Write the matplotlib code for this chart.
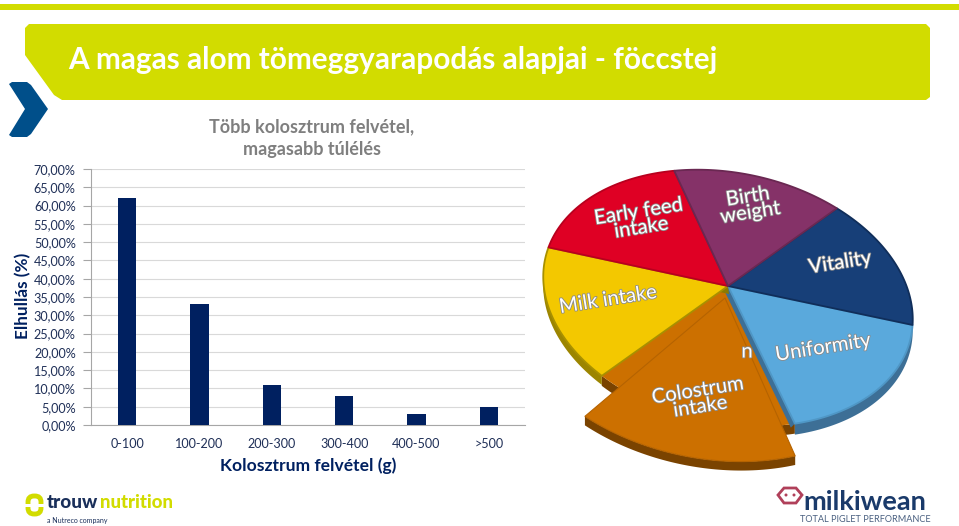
import numpy as np
import matplotlib
matplotlib.use('Agg')
import matplotlib.pyplot as plt
from matplotlib.patches import Polygon, FancyBboxPatch, Ellipse
import matplotlib.patheffects as pe

plt.rcParams['font.family'] = ['Lato', 'DejaVu Sans']

# bar chart data
categories = ['0-100', '100-200', '200-300', '300-400', '400-500', '>500']
mortality = [62, 33, 11, 8, 3, 5]
y_ticks = list(range(0, 75, 5))
y_labels = ['%d,00%%' % v for v in y_ticks]

# pie data (share of the ring in degrees, clockwise from Uniformity)
pie_labels = ['Uniformity', 'Colostrum\nintake', 'Milk intake', 'Early feed\nintake', 'Birth\nweight', 'Vitality']
pie_sizes = [66.2, 64.3, 60.6, 59.4, 53, 56.5]
pie_colors = ['#5aa9dc', '#cc7000', '#f3c800', '#df0024', '#853268', '#173f78']
rim_colors = ['#3d6f96', '#7a4300', '#9c8500', '#8f0017', '#5a2146', '#0f2a50']
edge_colors = ['#4f97c6', '#b56300', '#a89000', '#b8001e', '#6a2852', '#102e5a']
label_pos = [(823, 348), (699, 399), (608, 300), (640, 220), (749, 205), (840, 263)]

NAVY = '#002060'
TEXT = '#1f2f57'
LIME = '#d2dc00'

fig = plt.figure(figsize=(9.59, 5.26), dpi=100)
W, H = 959, 526

# overlay in pixel coordinates for the slide decoration
bg = fig.add_axes([0, 0, 1, 1], zorder=0)
bg.set_xlim(0, W)
bg.set_ylim(H, 0)
bg.axis('off')

bg.add_patch(Polygon([(0, 4), (W, 4), (W, 10), (0, 10)], color=LIME, lw=0))
bg.add_patch(Polygon([(25, 28), (29, 24), (926, 24), (930, 28), (930, 97), (926, 100),
                      (62, 100), (54, 95), (25, 55)], color=LIME, lw=0))
bg.text(68, 60, 'A magas alom tömeggyarapodás alapjai - föccstej', color='white',
        fontsize=21.4, fontweight='bold', va='center', ha='left')
bg.add_patch(Polygon([(9, 84), (12, 82), (27, 82), (31, 85), (48, 109), (31, 134), (27, 137),
                      (12, 137), (9, 135), (25, 109)], color='#004f8a', lw=0))

# bar chart
ax = fig.add_axes([91 / W, 1 - 425 / H, 434 / W, 256 / H], zorder=1)
ax.patch.set_alpha(0)
x = np.arange(len(categories))
ax.bar(x, mortality, width=0.25, color=NAVY, zorder=3)
ax.set_xlim(-0.5, 5.5)
ax.set_ylim(0, 70)
ax.set_yticks(y_ticks)
ax.set_yticklabels(y_labels, fontsize=9.1, color=TEXT)
ax.set_xticks(x)
ax.set_xticklabels(categories, fontsize=9.1, color=TEXT)
ax.tick_params(axis='x', length=0, pad=9)
ax.tick_params(axis='y', length=6, width=0.8, color='#a6a6a6', pad=5)
ax.grid(axis='y', color='#d9d9d9', lw=0.8, zorder=0)
for s in ['top', 'right']:
    ax.spines[s].set_visible(False)
for s in ['left', 'bottom']:
    ax.spines[s].set_color('#a6a6a6')
    ax.spines[s].set_linewidth(0.8)

bg.text(312, 127, 'Több kolosztrum felvétel,', color='#7f7f7f', fontsize=13,
        fontweight='bold', ha='center', va='center')
bg.text(312, 150, 'magasabb túlélés', color='#7f7f7f', fontsize=13,
        fontweight='bold', ha='center', va='center')
bg.text(308, 466, 'Kolosztrum felvétel (g)', color=NAVY, fontsize=12.6,
        fontweight='bold', ha='center', va='center')
bg.text(23, 296, 'Elhullás (%)', color=NAVY, fontsize=12.3, fontweight='bold',
        rotation=90, ha='center', va='center')

# tilted pie, drawn on the overlay
top = fig.add_axes([0, 0, 1, 1], zorder=2)
top.set_xlim(0, W)
top.set_ylim(H, 0)
top.axis('off')

CX, CY, A, B = 728, 298, 187, 125
ROT = np.radians(12)
APEX = (728, 286)


def rim(t1, t2, scale=1.0, dx=0, dy=0):
    t = np.radians(np.linspace(t1, t2, 60))
    ex = A * scale * np.cos(t)
    ey = B * scale * np.sin(t)
    return np.column_stack([CX + dx + ex * np.cos(ROT) - ey * np.sin(ROT),
                            CY + dy + ex * np.sin(ROT) + ey * np.cos(ROT)])


def side(pts, off, color, z):
    # visible thickness of the slice along an edge
    low = pts + np.array(off)
    top.add_patch(Polygon(np.vstack([pts, low[::-1]]), color=color, lw=0, zorder=z))


edges = -5.5 + np.cumsum([0] + pie_sizes)
order = [1, 0, 2, 3, 5, 4]

for i in order:
    t1, t2 = edges[i], edges[i + 1]
    arc = rim(t1, t2)
    z = 3 + order.index(i)
    if i == 1:
        # base of the pulled out slice, then the slice itself
        side(arc, (0, 10), rim_colors[i], 2)
        top.add_patch(Polygon(np.vstack([[APEX], arc]), color=pie_colors[i], lw=0, zorder=2))
        arc2 = rim(56, 120, scale=1.08, dx=-20, dy=25)
        side(arc2, (0, 9), rim_colors[i], 3)
        top.add_patch(Polygon(np.vstack([[(725, 298)], arc2]), facecolor=pie_colors[i],
                              edgecolor=edge_colors[i], lw=0.8, zorder=3))
        continue
    if i == 0:
        side(arc, (0, 11), rim_colors[i], z)
        side(np.array([APEX, arc[-1]]), (-4, 4), rim_colors[i], z)
    if i == 2:
        side(arc, (0, 9), rim_colors[i], z)
        side(np.array([APEX, arc[-1]]), (1, 8), '#8c7a00', z)
    pts = np.vstack([[APEX], arc])
    top.add_patch(Polygon(pts, facecolor=pie_colors[i], edgecolor=edge_colors[i], lw=1.3,
                          joinstyle='round', zorder=z))

shadow = [pe.withStroke(linewidth=1.2, foreground='#8a8a8a')]
for lab, pos in zip(pie_labels, label_pos):
    top.text(pos[0], pos[1], lab, color='white', fontsize=14.6, rotation=9, rotation_mode='anchor',
             ha='center', va='center', linespacing=0.95, path_effects=shadow, zorder=12)
top.text(747, 352, 'n', color='white', fontsize=14.6, ha='center', va='center',
         path_effects=shadow, zorder=4)

# trouw nutrition logo
bg.add_patch(FancyBboxPatch((28, 496), 13, 18, boxstyle='round,pad=0,rounding_size=6',
                            facecolor='none', edgecolor=LIME, lw=3.5))
bg.add_patch(Polygon([(24, 504), (46, 504), (46, 507), (24, 507)], color='white', lw=0))
bg.text(47, 503, 'trouw', color='#1a2f5a', fontsize=13.6, fontweight='black', va='center')
bg.text(100, 503, 'nutrition', color=LIME, fontsize=13.4, fontweight='black', va='center')
bg.text(47, 521, 'a Nutreco company', color='#1a2f5a', fontsize=5, va='center')

# milkiwean logo
bg.add_patch(Polygon([(778, 495), (784, 488), (796, 488), (802, 495), (796, 503), (784, 503)],
                     facecolor='none', edgecolor='#b0405a', lw=2))
bg.add_patch(Ellipse((786, 495), 3, 3, color='#b0405a', lw=0))
bg.add_patch(Ellipse((794, 495), 3, 3, color='#b0405a', lw=0))
bg.text(803, 502, 'milkiwean', color='#1a3a6a', fontsize=19.5, fontweight='bold', va='center')
bg.text(800, 520, 'TOTAL PIGLET PERFORMANCE', color='#4a6080', fontsize=6.6, va='center')

fig.savefig('out.png', dpi=100)
